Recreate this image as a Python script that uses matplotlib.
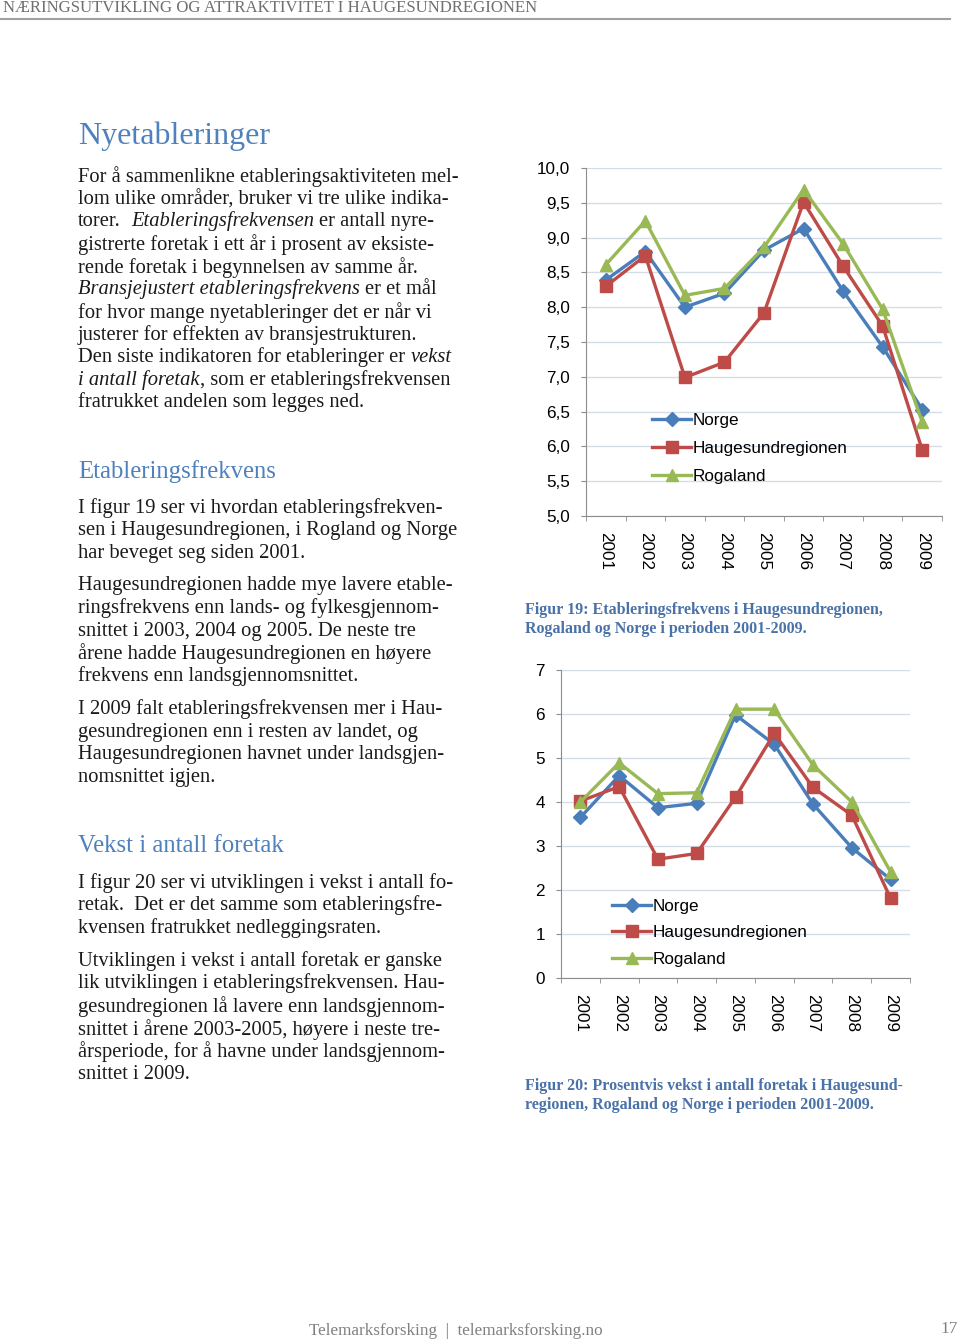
import matplotlib.pyplot as plt
from matplotlib.ticker import FixedLocator, NullFormatter

# Data
years = ['2001', '2002', '2003', '2004', '2005', '2006', '2007', '2008', '2009']
series_names = ['Norge', 'Haugesundregionen', 'Rogaland']

etab_norge = [8.39, 8.80, 8.00, 8.20, 8.82, 9.13, 8.23, 7.43, 6.53]
etab_hauge = [8.30, 8.74, 6.99, 7.21, 7.92, 9.51, 8.59, 7.73, 5.95]
etab_rogaland = [8.61, 9.24, 8.17, 8.27, 8.86, 9.69, 8.91, 7.97, 6.35]

vekst_norge = [3.65, 4.60, 3.87, 3.97, 5.98, 5.31, 3.95, 2.96, 2.24]
vekst_hauge = [4.02, 4.35, 2.70, 2.83, 4.11, 5.56, 4.33, 3.70, 1.81]
vekst_rogaland = [4.00, 4.89, 4.19, 4.21, 6.11, 6.11, 4.84, 4.00, 2.41]

etab_ticks = [5.0, 5.5, 6.0, 6.5, 7.0, 7.5, 8.0, 8.5, 9.0, 9.5, 10.0]
vekst_ticks = [0, 1, 2, 3, 4, 5, 6, 7]

colors = ['#4A7EBB', '#BE4B48', '#98B954']
markers = ['D', 's', '^']
msizes = [7, 8.5, 9]

W, H = 960, 1341
fig = plt.figure(figsize=(W / 100, H / 100), dpi=100)
renderer = fig.canvas.get_renderer()

SERIF = 'Liberation Serif'
SANS = 'Liberation Sans'
BLUE = '#4F81BD'
CAP = '#4A72A8'
BODY = 14.8
CHART_FS = 12.3


def fx(px):
    return px / W


def fy(py):
    return 1 - py / H


def text_width(s, **kw):
    t = fig.text(0, 0, s, **kw)
    w = t.get_window_extent(renderer).width
    t.remove()
    return w


def rich_line(x, y, parts, size=BODY):
    # parts: list of (text, italic) drawn one after another
    space = text_width('a a', family=SERIF, size=size) - text_width('aa', family=SERIF, size=size)
    cx = x
    for s, it in parts:
        style = 'italic' if it else 'normal'
        cx += (len(s) - len(s.lstrip(' '))) * space
        s2 = s.strip(' ')
        fig.text(fx(cx), fy(y + 1.5), s2, family=SERIF, size=size, style=style,
                 va='center', ha='left', color='#1a1a1a')
        cx += text_width(s2, family=SERIF, size=size, style=style)
        cx += (len(s) - len(s.rstrip(' '))) * space


# Header and footer
fig.text(fx(3), fy(8), 'NÆRINGSUTVIKLING OG ATTRAKTIVITET I HAUGESUNDREGIONEN',
         family=SERIF, size=12.1, color='#707070', va='center', ha='left')
fig.add_artist(plt.Line2D([0, fx(950)], [fy(19), fy(19)], color='#a0a0a0', lw=1.5))
fig.text(fx(456), fy(1331), 'Telemarksforsking  |  telemarksforsking.no',
         family=SERIF, size=12.3, color='#808080', va='center', ha='center')
fig.text(fx(958), fy(1329), '17', family=SERIF, size=12.5, color='#808080',
         va='center', ha='right')

# Left column text
X0 = 78
fig.text(fx(X0), fy(136), 'Nyetableringer', family=SERIF, size=23, color=BLUE,
         va='center', ha='left')

p1 = [
    [('For å sammenlikne etableringsaktiviteten mel-', False)],
    [('lom ulike områder, bruker vi tre ulike indika-', False)],
    [('torer.  ', False), ('Etableringsfrekvensen', True), (' er antall nyre-', False)],
    [('gistrerte foretak i ett år i prosent av eksiste-', False)],
    [('rende foretak i begynnelsen av samme år.', False)],
    [('Bransjejustert etableringsfrekvens', True), (' er et mål', False)],
    [('for hvor mange nyetableringer det er når vi', False)],
    [('justerer for effekten av bransjestrukturen.', False)],
    [('Den siste indikatoren for etableringer er ', False), ('vekst', True)],
    [('i antall foretak', True), (', som er etableringsfrekvensen', False)],
    [('fratrukket andelen som legges ned.', False)],
]
y1 = [175, 198, 220, 243, 266, 288, 311, 334, 356, 379, 401]
for y, parts in zip(y1, p1):
    rich_line(X0, y, parts)

fig.text(fx(X0), fy(472), 'Etableringsfrekvens', family=SERIF, size=17.8, color=BLUE,
         va='center', ha='left')

p2 = [
    'I figur 19 ser vi hvordan etableringsfrekven-',
    'sen i Haugesundregionen, i Rogland og Norge',
    'har beveget seg siden 2001.',
    'Haugesundregionen hadde mye lavere etable-',
    'ringsfrekvens enn lands- og fylkesgjennom-',
    'snittet i 2003, 2004 og 2005. De neste tre',
    'årene hadde Haugesundregionen en høyere',
    'frekvens enn landsgjennomsnittet.',
    'I 2009 falt etableringsfrekvensen mer i Hau-',
    'gesundregionen enn i resten av landet, og',
    'Haugesundregionen havnet under landsgjen-',
    'nomsnittet igjen.',
]
y2 = [507, 529, 552, 584, 607, 630, 652, 675, 708, 731, 753, 776]
for y, s in zip(y2, p2):
    rich_line(X0, y, [(s, False)])

fig.text(fx(X0), fy(846), 'Vekst i antall foretak', family=SERIF, size=17.8, color=BLUE,
         va='center', ha='left')

p3 = [
    'I figur 20 ser vi utviklingen i vekst i antall fo-',
    'retak.  Det er det samme som etableringsfre-',
    'kvensen fratrukket nedleggingsraten.',
    'Utviklingen i vekst i antall foretak er ganske',
    'lik utviklingen i etableringsfrekvensen. Hau-',
    'gesundregionen lå lavere enn landsgjennom-',
    'snittet i årene 2003-2005, høyere i neste tre-',
    'årsperiode, for å havne under landsgjennom-',
    'snittet i 2009.',
]
y3 = [882, 904, 927, 960, 982, 1005, 1028, 1050, 1073]
for y, s in zip(y3, p3):
    rich_line(X0, y, [(s, False)])

# Captions
captions = [
    (609, 'Figur 19: Etableringsfrekvens i Haugesundregionen,'),
    (628, 'Rogaland og Norge i perioden 2001-2009.'),
    (1085, 'Figur 20: Prosentvis vekst i antall foretak i Haugesund-'),
    (1104, 'regionen, Rogaland og Norge i perioden 2001-2009.'),
]
for y, s in captions:
    fig.text(fx(525), fy(y + 1), s, family=SERIF, size=11.5, weight='bold', color=CAP,
             va='center', ha='left')


def line_chart(rect, data, ticks, ylim, tick_fmt, legend_xy, labelspacing):
    ax = fig.add_axes(rect)
    x = list(range(len(years)))
    for vals, name, c, m, ms in zip(data, series_names, colors, markers, msizes):
        ax.plot(x, vals, color=c, lw=2.4, marker=m, ms=ms, label=name,
                markeredgecolor=c, zorder=3, clip_on=False)
    ax.set_xlim(-0.5, len(years) - 0.5)
    ax.set_ylim(*ylim)
    ax.set_yticks(ticks)
    ax.set_yticklabels([tick_fmt(t) for t in ticks], family=SANS, fontsize=CHART_FS)
    ax.yaxis.grid(True, color='#d4dde6', lw=1)
    ax.set_axisbelow(True)
    ax.xaxis.set_major_locator(FixedLocator(x))
    ax.set_xticklabels(years, rotation=-90, family=SANS, fontsize=CHART_FS)
    ax.xaxis.set_minor_locator(FixedLocator([i - 0.5 for i in range(len(years) + 1)]))
    ax.xaxis.set_minor_formatter(NullFormatter())
    ax.tick_params(axis='x', which='major', length=0, pad=11.5)
    ax.tick_params(axis='x', which='minor', length=3.5, color='#8c8c8c', direction='out')
    ax.tick_params(axis='y', length=3.5, color='#8c8c8c', pad=8)
    for side in ['top', 'right']:
        ax.spines[side].set_visible(False)
    for side in ['left', 'bottom']:
        ax.spines[side].set_color('#8c8c8c')
    ax.legend(loc='upper left', bbox_to_anchor=legend_xy, bbox_transform=fig.transFigure,
              frameon=False, prop={'family': SANS, 'size': CHART_FS}, borderpad=0,
              borderaxespad=0, handlelength=2.3, handletextpad=0.1,
              labelspacing=labelspacing)
    return ax


line_chart([fx(586), fy(516), fx(942) - fx(586), fy(168) - fy(516)],
           [etab_norge, etab_hauge, etab_rogaland], etab_ticks, (5.0, 10.0),
           lambda t: f'{t:.1f}'.replace('.', ','), (fx(652), fy(413)), 0.77)

line_chart([fx(561), fy(978), fx(910) - fx(561), fy(670) - fy(978)],
           [vekst_norge, vekst_hauge, vekst_rogaland], vekst_ticks, (0, 7),
           lambda t: f'{t:d}', (fx(612), fy(899)), 0.67)

fig.savefig('out.png', dpi=100, facecolor='white')
